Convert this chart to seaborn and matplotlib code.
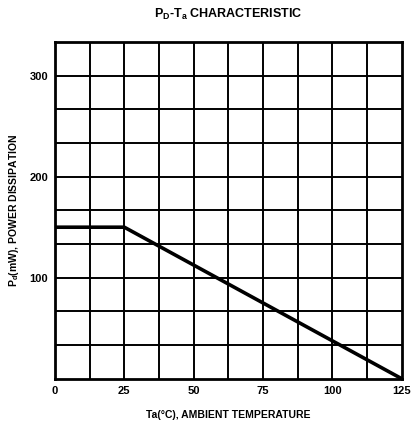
import matplotlib
matplotlib.use("Agg")
import matplotlib.pyplot as plt
import seaborn as sns
import pandas as pd

# data
temperature = [0, 25, 125]
power_mw = [150, 150, 0]
x_ticks = [0, 25, 50, 75, 100, 125]
y_ticks = [100, 200, 300]
title = r"P$_\mathbf{D}$-T$_\mathbf{a}$ CHARACTERISTIC"
x_label = "Ta(°C), AMBIENT TEMPERATURE"
y_label = r"P$_\mathbf{d}$(mW), POWER DISSIPATION"

sns.set_style("white")
plt.rcParams["font.family"] = ["Liberation Sans", "DejaVu Sans"]
plt.rcParams["font.weight"] = "bold"
plt.rcParams["text.color"] = "black"
plt.rcParams["axes.labelcolor"] = "black"
plt.rcParams["xtick.color"] = "black"
plt.rcParams["ytick.color"] = "black"
plt.rcParams["mathtext.fontset"] = "custom"
plt.rcParams["mathtext.rm"] = "Liberation Sans:bold"
plt.rcParams["mathtext.bf"] = "Liberation Sans:bold"
plt.rcParams["mathtext.it"] = "Liberation Sans:bold"

fig = plt.figure(figsize=(4.13, 4.28), dpi=100)
ax = fig.add_axes([0.133, 0.115, 0.840, 0.787])

df = pd.DataFrame({"Ta": temperature, "Pd": power_mw})
sns.lineplot(data=df, x="Ta", y="Pd", ax=ax, color="black", linewidth=2.6, zorder=5)

ax.set_xlim(0, 125)
ax.set_ylim(0, 1000 / 3)

# grid lines
for i in range(1, 10):
    ax.axvline(i * 12.5, color="black", linewidth=1.4, zorder=1)
for i in range(1, 10):
    ax.axhline(i * 100 / 3, color="black", linewidth=1.4, zorder=1)

ax.set_xticks(x_ticks)
ax.set_xticklabels([str(t) for t in x_ticks], fontsize=8, fontweight="bold")
ax.set_yticks(y_ticks)
ax.set_yticklabels([str(t) for t in y_ticks], fontsize=8, fontweight="bold")
ax.tick_params(axis="both", length=0, pad=5, colors="black")

for s in ax.spines.values():
    s.set_visible(True)
    s.set_color("black")
    s.set_linewidth(2.0)

ax.set_xlabel(x_label, fontsize=7.5, fontweight="bold", labelpad=10, color="black")
ax.set_ylabel(y_label, fontsize=7.5, fontweight="bold", labelpad=6, color="black")
ax.set_title(title, fontsize=9, fontweight="bold", pad=17, color="black")

fig.savefig("out.png", dpi=100, facecolor="white")
